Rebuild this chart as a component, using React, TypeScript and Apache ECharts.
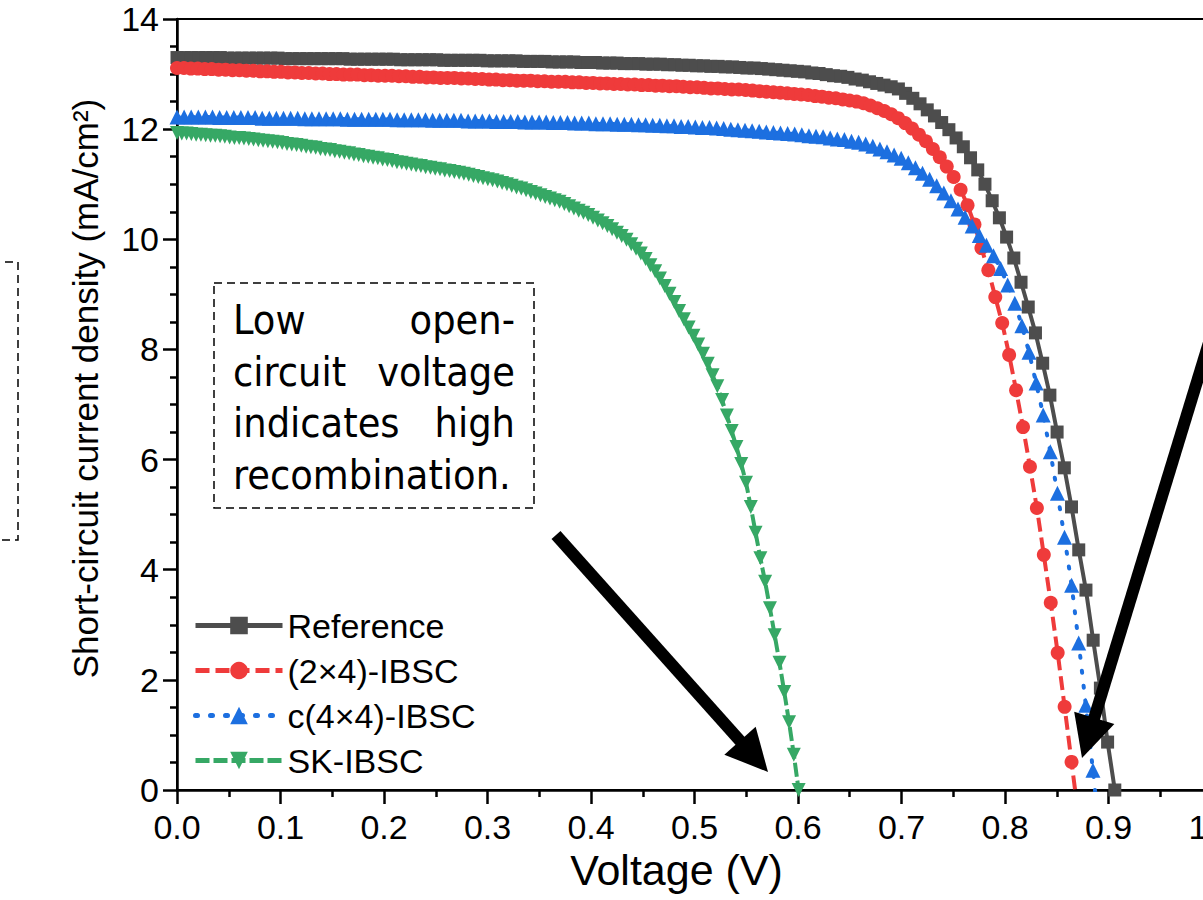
import React, { useEffect, useRef } from "react";
import * as echarts from "echarts";

// Voltage sweep step of each simulated J–V curve (V per point, 131 points from 0 V)
const REF_STEP = 0.00697;
const IBSC_2X4_STEP = 0.0067;
const IBSC_4X4_STEP = 0.00686;
const SK_STEP = 0.00462;

// Current density (mA/cm²) at each sweep point
const REF_CURRENT = [
  13.30, 13.30, 13.30, 13.30, 13.30, 13.30, 13.30, 13.29, 13.29, 13.29,
  13.29, 13.29, 13.29, 13.29, 13.29, 13.28, 13.28, 13.28, 13.28, 13.28,
  13.28, 13.28, 13.28, 13.28, 13.27, 13.27, 13.27, 13.27, 13.27, 13.27,
  13.27, 13.26, 13.26, 13.26, 13.26, 13.26, 13.26, 13.25, 13.25, 13.25,
  13.25, 13.25, 13.25, 13.24, 13.24, 13.24, 13.24, 13.24, 13.23, 13.23,
  13.23, 13.23, 13.22, 13.22, 13.22, 13.22, 13.21, 13.21, 13.21, 13.20,
  13.20, 13.20, 13.19, 13.19, 13.19, 13.18, 13.18, 13.18, 13.17, 13.17,
  13.16, 13.16, 13.15, 13.15, 13.14, 13.14, 13.13, 13.13, 13.12, 13.11,
  13.11, 13.10, 13.09, 13.08, 13.07, 13.06, 13.05, 13.04, 13.02, 13.01,
  12.99, 12.97, 12.96, 12.94, 12.91, 12.89, 12.86, 12.83, 12.80, 12.77,
  12.73, 12.65, 12.56, 12.46, 12.35, 12.24, 12.12, 11.99, 11.84, 11.68,
  11.48, 11.26, 11.00, 10.70, 10.39, 10.04, 9.66, 9.22, 8.77, 8.30,
  7.75, 7.17, 6.50, 5.85, 5.14, 4.36, 3.63, 2.72, 1.85, 0.87, 0.0,
];

const IBSC_2X4_CURRENT = [
  13.11, 13.11, 13.10, 13.10, 13.09, 13.09, 13.08, 13.08, 13.07, 13.07,
  13.06, 13.06, 13.05, 13.05, 13.04, 13.04, 13.03, 13.03, 13.02, 13.02,
  13.01, 13.01, 13.00, 13.00, 12.99, 12.99, 12.99, 12.98, 12.98, 12.97,
  12.97, 12.97, 12.96, 12.96, 12.95, 12.95, 12.94, 12.94, 12.93, 12.93,
  12.93, 12.92, 12.92, 12.91, 12.91, 12.90, 12.90, 12.89, 12.89, 12.88,
  12.88, 12.88, 12.87, 12.87, 12.86, 12.86, 12.86, 12.85, 12.85, 12.84,
  12.84, 12.83, 12.83, 12.82, 12.82, 12.81, 12.81, 12.80, 12.80, 12.79,
  12.79, 12.78, 12.78, 12.77, 12.76, 12.76, 12.75, 12.74, 12.74, 12.73,
  12.72, 12.72, 12.71, 12.70, 12.69, 12.68, 12.67, 12.66, 12.65, 12.64,
  12.63, 12.62, 12.60, 12.59, 12.57, 12.56, 12.54, 12.52, 12.50, 12.47,
  12.43, 12.38, 12.33, 12.27, 12.20, 12.11, 12.01, 11.90, 11.78, 11.64,
  11.49, 11.32, 11.13, 10.90, 10.62, 10.27, 9.84, 9.44, 8.95, 8.48,
  7.90, 7.26, 6.59, 5.87, 5.12, 4.27, 3.40, 2.49, 1.51, 0.51, -0.49,
];

const IBSC_4X4_CURRENT = [
  12.22, 12.22, 12.22, 12.22, 12.22, 12.22, 12.21, 12.21, 12.21, 12.21,
  12.21, 12.21, 12.20, 12.20, 12.20, 12.20, 12.20, 12.20, 12.19, 12.19,
  12.19, 12.19, 12.19, 12.19, 12.18, 12.18, 12.18, 12.18, 12.18, 12.18,
  12.18, 12.17, 12.17, 12.17, 12.17, 12.17, 12.16, 12.16, 12.16, 12.16,
  12.16, 12.15, 12.15, 12.15, 12.15, 12.14, 12.14, 12.14, 12.14, 12.13,
  12.13, 12.13, 12.13, 12.12, 12.12, 12.12, 12.11, 12.11, 12.11, 12.10,
  12.10, 12.10, 12.09, 12.09, 12.09, 12.08, 12.08, 12.07, 12.07, 12.06,
  12.06, 12.05, 12.05, 12.04, 12.03, 12.03, 12.02, 12.01, 12.00, 11.99,
  11.98, 11.97, 11.96, 11.95, 11.94, 11.93, 11.92, 11.91, 11.90, 11.88,
  11.87, 11.86, 11.84, 11.82, 11.81, 11.78, 11.76, 11.73, 11.69, 11.64,
  11.59, 11.53, 11.47, 11.39, 11.30, 11.20, 11.09, 10.97, 10.84, 10.70,
  10.55, 10.40, 10.24, 10.07, 9.89, 9.70, 9.47, 9.17, 8.84, 8.43,
  7.95, 7.39, 6.81, 6.14, 5.39, 4.59, 3.72, 2.67, 1.54, 0.36, -0.87,
];

const SK_CURRENT = [
  11.93, 11.92, 11.92, 11.91, 11.90, 11.90, 11.89, 11.88, 11.88, 11.87,
  11.86, 11.85, 11.84, 11.84, 11.83, 11.82, 11.81, 11.80, 11.79, 11.78,
  11.77, 11.76, 11.75, 11.73, 11.72, 11.71, 11.70, 11.68, 11.67, 11.66,
  11.64, 11.63, 11.62, 11.60, 11.59, 11.57, 11.56, 11.54, 11.53, 11.51,
  11.50, 11.48, 11.47, 11.45, 11.44, 11.42, 11.40, 11.39, 11.37, 11.36,
  11.34, 11.33, 11.31, 11.30, 11.28, 11.27, 11.25, 11.24, 11.22, 11.21,
  11.19, 11.17, 11.15, 11.13, 11.11, 11.09, 11.07, 11.05, 11.02, 11.00,
  10.97, 10.94, 10.92, 10.89, 10.86, 10.83, 10.80, 10.77, 10.74, 10.71,
  10.68, 10.64, 10.60, 10.56, 10.52, 10.48, 10.44, 10.39, 10.34, 10.29,
  10.24, 10.18, 10.12, 10.06, 9.99, 9.91, 9.83, 9.74, 9.64, 9.53,
  9.42, 9.29, 9.15, 9.01, 8.86, 8.70, 8.55, 8.40, 8.25, 8.09,
  7.92, 7.74, 7.53, 7.33, 7.08, 6.80, 6.52, 6.23, 5.92, 5.58,
  5.14, 4.67, 4.21, 3.78, 3.30, 2.81, 2.31, 1.78, 1.23, 0.64, 0.0,
];

const SERIES_NAMES = ["Reference", "(2×4)-IBSC", "c(4×4)-IBSC", "SK-IBSC"];
const X_TICKS = { min: 0, max: 1, interval: 0.1 };
const Y_TICKS = { min: 0, max: 14, interval: 2 };

const NOTE_LINES: [string, string][] = [
  ["Low", "open-"],
  ["circuit", "voltage"],
  ["indicates", "high"],
  ["recombination.", ""],
];

const FONT = "'Liberation Sans', Arial, Helvetica, sans-serif";
const NOTE_FONT = "'DejaVu Sans Condensed', 'DejaVu Sans', sans-serif";

// The plot frame runs past the right edge of the visible area
const VIEW_W = 1203;
const VIEW_H = 900;
const CANVAS_W = 1260;

const toPoints = (current: number[], step: number) =>
  current.map((j, i) => [+(i * step).toFixed(5), j]);

// Arrow built from a thick shaft and a triangular head
function arrow(x0: number, y0: number, x1: number, y1: number) {
  const dx = x1 - x0;
  const dy = y1 - y0;
  const len = Math.hypot(dx, dy);
  const ux = dx / len;
  const uy = dy / len;
  const headLen = 42;
  const headHalf = 21;
  const bx = x1 - ux * headLen;
  const by = y1 - uy * headLen;
  return [
    {
      type: "line",
      z: 100,
      shape: { x1: x0, y1: y0, x2: bx + ux * 4, y2: by + uy * 4 },
      style: { stroke: "#000", lineWidth: 12 },
    },
    {
      type: "polygon",
      z: 100,
      shape: {
        points: [
          [x1, y1],
          [bx - uy * headHalf, by + ux * headHalf],
          [bx + uy * headHalf, by - ux * headHalf],
        ],
      },
      style: { fill: "#000" },
    },
  ];
}

export default function App() {
  const ref = useRef<HTMLDivElement>(null);

  useEffect(() => {
    if (!ref.current) return;
    const chart = echarts.init(ref.current, undefined, { renderer: "svg" });

    const axisLine = { lineStyle: { color: "#000", width: 2.5 } };
    const tickStyle = { color: "#000", width: 2.5 };

    const noteX0 = 233;
    const noteX1 = 515;
    const noteY0 = 320;
    const noteDy = 51.5;
    const noteTexts: any[] = [];
    NOTE_LINES.forEach(([l, r], k) => {
      noteTexts.push({
        type: "text",
        z: 100,
        x: noteX0,
        y: noteY0 + k * noteDy,
        style: {
          text: l,
          font: `41px ${NOTE_FONT}`,
          fill: "#000",
          align: "left",
          verticalAlign: "middle",
        },
      });
      if (r) {
        noteTexts.push({
          type: "text",
          z: 100,
          x: noteX1,
          y: noteY0 + k * noteDy,
          style: {
            text: r,
            font: `41px ${NOTE_FONT}`,
            fill: "#000",
            align: "right",
            verticalAlign: "middle",
          },
        });
      }
    });

    const lineSeries = (
      name: string,
      data: number[][],
      color: string,
      symbol: string,
      symbolSize: number,
      lineStyle: any,
      extra: any = {}
    ) => ({
      name,
      type: "line",
      data,
      symbol,
      symbolSize,
      showSymbol: true,
      clip: true,
      itemStyle: { color },
      lineStyle: { color, width: 4, ...lineStyle },
      emphasis: { disabled: true },
      ...extra,
    });

    chart.setOption({
      animation: false,
      backgroundColor: "#fff",
      textStyle: { fontFamily: FONT },
      grid: {
        left: 177,
        right: CANVAS_W - 1212,
        top: 19,
        bottom: 110,
        show: true,
        borderColor: "#000",
        borderWidth: 2,
        backgroundColor: "transparent",
      },
      legend: {
        orient: "vertical",
        left: 188,
        top: 603,
        itemWidth: 87,
        itemHeight: 22,
        itemGap: 10,
        data: SERIES_NAMES,
        lineStyle: { width: 5 },
        textStyle: {
          fontSize: 34,
          lineHeight: 35,
          color: "#000",
          fontFamily: FONT,
          padding: [0, 0, 0, 0],
        },
      },
      xAxis: {
        type: "value",
        min: X_TICKS.min,
        max: X_TICKS.max,
        interval: X_TICKS.interval,
        name: "Voltage (V)",
        nameLocation: "middle",
        nameGap: 49,
        nameTextStyle: {
          fontSize: 43,
          color: "#000",
          fontFamily: FONT,
          padding: [0, 36, 0, 0],
        },
        axisLine: { onZero: false, ...axisLine },
        axisTick: { length: 14, lineStyle: tickStyle },
        minorTick: { show: true, splitNumber: 2, length: 7, lineStyle: tickStyle },
        splitLine: { show: false },
        minorSplitLine: { show: false },
        axisLabel: {
          fontSize: 34,
          color: "#000",
          margin: 20,
          formatter: (v: number) => v.toFixed(1),
        },
      },
      yAxis: {
        type: "value",
        min: Y_TICKS.min,
        max: Y_TICKS.max,
        interval: Y_TICKS.interval,
        name: "Short-circuit current density (mA/cm²)",
        nameLocation: "middle",
        nameGap: 74,
        nameTextStyle: {
          fontSize: 35,
          color: "#000",
          fontFamily: FONT,
          padding: [0, 0, 0, 32],
        },
        axisLine: { onZero: false, ...axisLine },
        axisTick: { length: 14, lineStyle: tickStyle },
        minorTick: { show: true, splitNumber: 4, length: 7, lineStyle: tickStyle },
        splitLine: { show: false },
        minorSplitLine: { show: false },
        axisLabel: { fontSize: 34, color: "#000", margin: 18 },
      },
      series: [
        lineSeries(SERIES_NAMES[0], toPoints(REF_CURRENT, REF_STEP), "#4d4d4d", "rect", 13, { type: "solid" }),
        lineSeries(SERIES_NAMES[1], toPoints(IBSC_2X4_CURRENT, IBSC_2X4_STEP), "#ef3b3b", "circle", 14, { type: [14, 6] }),
        lineSeries(SERIES_NAMES[2], toPoints(IBSC_4X4_CURRENT, IBSC_4X4_STEP), "#1c6fe0", "triangle", 15, {
          type: [2, 13],
          cap: "round",
        }),
        lineSeries(SERIES_NAMES[3], toPoints(SK_CURRENT, SK_STEP), "#36a865", "triangle", 14, { type: [14, 4] }, {
          symbolRotate: 180,
        }),
      ],
      graphic: [
        {
          type: "rect",
          z: 100,
          shape: { x: 214, y: 283, width: 320, height: 225 },
          style: { fill: "#fff", stroke: "#000", lineWidth: 1.5, lineDash: [8, 5] },
        },
        ...noteTexts,
        {
          type: "rect",
          z: 100,
          shape: { x: -60, y: 262, width: 78, height: 278 },
          style: { fill: "none", stroke: "#000", lineWidth: 1.5, lineDash: [8, 5] },
        },
        ...arrow(556, 535, 768, 772),
        ...arrow(1225, 290, 1082, 758),
      ],
    });

    return () => chart.dispose();
  }, []);

  return (
    <div
      style={{
        position: "fixed",
        left: 0,
        top: 0,
        width: VIEW_W,
        height: VIEW_H,
        overflow: "hidden",
        background: "#fff",
      }}
    >
      <div ref={ref} style={{ width: CANVAS_W, height: VIEW_H }} />
    </div>
  );
}
